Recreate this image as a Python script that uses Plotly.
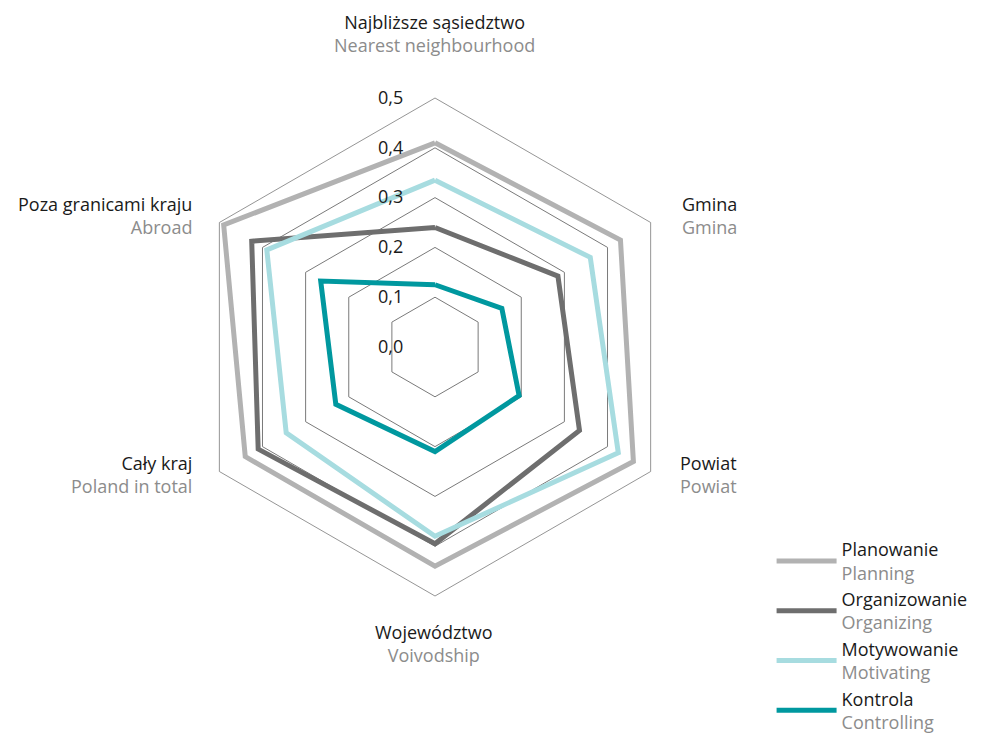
import math
import plotly.graph_objects as go

categories = [
    "Najbliższe sąsiedztwo", "Gmina", "Powiat",
    "Województwo", "Cały kraj", "Poza granicami kraju",
]
categories_en = [
    "Nearest neighbourhood", "Gmina", "Powiat",
    "Voivodship", "Poland in total", "Abroad",
]

series_pl = ["Planowanie", "Organizowanie", "Motywowanie", "Kontrola"]
series_en = ["Planning", "Organizing", "Motivating", "Controlling"]

planning = [0.41, 0.43, 0.46, 0.44, 0.44, 0.49]
organizing = [0.24, 0.285, 0.335, 0.395, 0.41, 0.425]
motivating = [0.335, 0.36, 0.425, 0.38, 0.345, 0.39]
controlling = [0.125, 0.155, 0.195, 0.21, 0.23, 0.265]

radial_ticks = [0, 0.1, 0.2, 0.3, 0.4, 0.5]

colors = ["#b2b2b2", "#6e6e6e", "#a7dce0", "#00989f"]
EN_GRAY = "#8c8c8c"
FONT = "Open Sans"
FS = 18
W, H = 984, 733

# polar geometry in figure px, used to hang category labels off the vertices
CX, CY, R = 427, 338.5, 249


def two_line(pl, en):
    return f"{pl}<br><span style='color:{EN_GRAY}'>{en}</span>"


fig = go.Figure()

for vals, pl, en, col in zip([planning, organizing, motivating, controlling],
                             series_pl, series_en, colors):
    fig.add_trace(go.Scatterpolar(
        r=vals + vals[:1],
        theta=categories + categories[:1],
        mode="lines",
        line=dict(color=col, width=5),
        name=two_line(pl, en),
    ))

# category labels: offset from each hexagon vertex
label_offsets = [(-1, -64, "center"), (29, -7, "left"), (27, 3, "left"),
                 (-1, 48, "center"), (-25, 3, "right"), (-25, -7, "right")]
annotations = []
for i, (pl, en) in enumerate(zip(categories, categories_en)):
    ang = math.radians(90 - 60 * i)
    vx = CX + R * math.cos(ang)
    vy = CY - R * math.sin(ang)
    dx, dy, anchor = label_offsets[i]
    annotations.append(dict(
        x=(vx + dx) / W, y=1 - (vy + dy) / H,
        xref="paper", yref="paper",
        xanchor=anchor, yanchor="middle", align=anchor,
        text=two_line(pl, en), showarrow=False,
        font=dict(family=FONT, size=FS, color="#1a1a1a"),
    ))

fig.update_layout(
    width=W,
    height=H,
    margin=dict(l=0, r=0, t=0, b=0),
    paper_bgcolor="white",
    plot_bgcolor="white",
    font=dict(family=FONT, size=FS, color="#1a1a1a"),
    separators=", ",
    showlegend=True,
    annotations=annotations,
    legend=dict(
        x=0.776, xanchor="left",
        y=0.0, yanchor="bottom",
        font=dict(family=FONT, size=FS, color="#1a1a1a"),
        itemwidth=60,
        bgcolor="rgba(0,0,0,0)",
    ),
    polar=dict(
        domain=dict(x=[0.1809, 0.6870], y=[0.1978, 0.8772]),
        bgcolor="white",
        gridshape="linear",
        radialaxis=dict(
            range=[0, 0.5],
            angle=90,
            side="counterclockwise",
            tickangle=90,
            tickvals=radial_ticks,
            tickformat=".1f",
            showline=False,
            ticks="outside",
            ticklen=25,
            tickcolor="rgba(0,0,0,0)",
            gridcolor="#7a7a7a",
            gridwidth=0.8,
            tickfont=dict(family=FONT, size=FS, color="#1a1a1a"),
        ),
        angularaxis=dict(
            rotation=90,
            direction="clockwise",
            tickvals=categories,
            showticklabels=False,
            showgrid=False,
            linecolor="#7a7a7a",
            linewidth=0.8,
            ticks="",
        ),
    ),
)

fig.write_html("out.html")
